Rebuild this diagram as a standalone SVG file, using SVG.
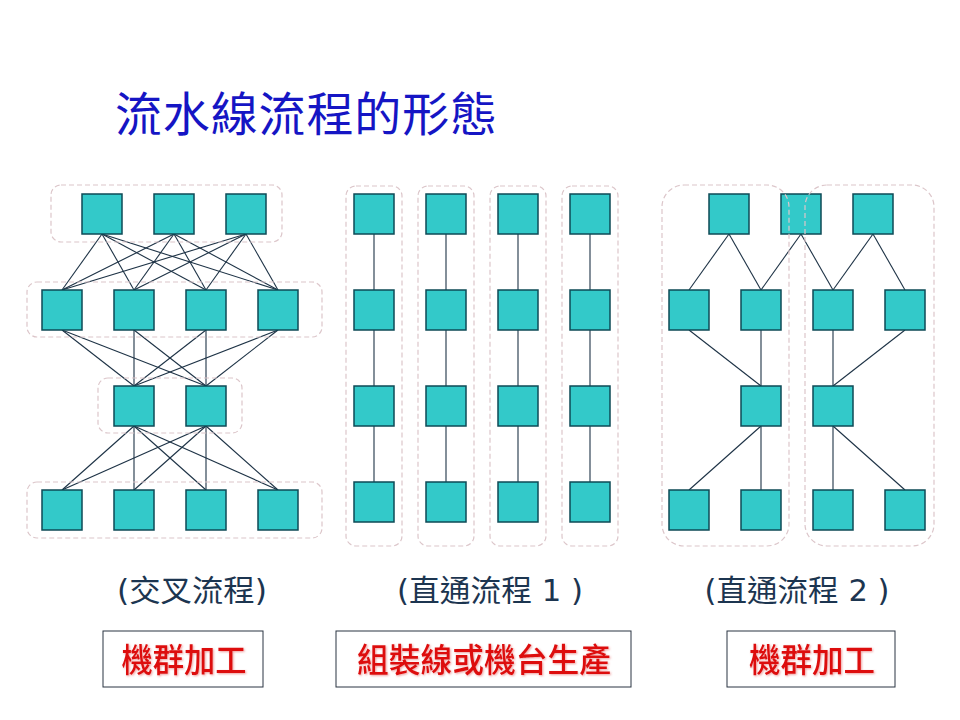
<svg xmlns="http://www.w3.org/2000/svg" width="960" height="720" viewBox="0 0 960 720">
<defs>
<style>
.n{fill:#33c9c9;stroke:#0e4a56;stroke-width:1.5}
.c{stroke:#1e3346;stroke-width:1.1;fill:none}
.g{fill:none;stroke:#dcc6ca;stroke-width:1.2;stroke-dasharray:5 3}
.t{font-family:"Noto Sans CJK TC","Noto Sans CJK SC",sans-serif;font-size:47px;fill:#1515c4}
.l{font-family:"DejaVu Sans","Noto Sans CJK TC",sans-serif;font-size:30px;fill:#1c3550;text-anchor:middle}
.r{font-family:"Noto Sans CJK TC","Noto Sans CJK SC",sans-serif;font-size:33px;fill:#dd1010;text-anchor:middle;font-weight:500}
.b{fill:#fff;stroke:#2a3442;stroke-width:1}
</style>
<filter id="sh" x="-10%" y="-20%" width="120%" height="140%">
<feDropShadow dx="1" dy="1" stdDeviation="1" flood-color="#e05050" flood-opacity="0.55"/>
</filter>
</defs>
<rect width="960" height="720" fill="#fff"/>
<text class="t" x="115" y="131" textLength="382">流水線流程的形態</text>

<g id="connectors">
<line class="c" x1="102" y1="234" x2="62" y2="290"/><line class="c" x1="102" y1="234" x2="134" y2="290"/><line class="c" x1="102" y1="234" x2="206" y2="290"/><line class="c" x1="102" y1="234" x2="278" y2="290"/>
<line class="c" x1="174" y1="234" x2="62" y2="290"/><line class="c" x1="174" y1="234" x2="134" y2="290"/><line class="c" x1="174" y1="234" x2="206" y2="290"/><line class="c" x1="174" y1="234" x2="278" y2="290"/>
<line class="c" x1="246" y1="234" x2="62" y2="290"/><line class="c" x1="246" y1="234" x2="134" y2="290"/><line class="c" x1="246" y1="234" x2="206" y2="290"/><line class="c" x1="246" y1="234" x2="278" y2="290"/>
<line class="c" x1="62" y1="330" x2="134" y2="386"/><line class="c" x1="62" y1="330" x2="206" y2="386"/>
<line class="c" x1="134" y1="330" x2="134" y2="386"/><line class="c" x1="134" y1="330" x2="206" y2="386"/>
<line class="c" x1="206" y1="330" x2="134" y2="386"/><line class="c" x1="206" y1="330" x2="206" y2="386"/>
<line class="c" x1="278" y1="330" x2="134" y2="386"/><line class="c" x1="278" y1="330" x2="206" y2="386"/>
<line class="c" x1="134" y1="426" x2="62" y2="490"/><line class="c" x1="134" y1="426" x2="134" y2="490"/><line class="c" x1="134" y1="426" x2="206" y2="490"/><line class="c" x1="134" y1="426" x2="278" y2="490"/>
<line class="c" x1="206" y1="426" x2="62" y2="490"/><line class="c" x1="206" y1="426" x2="134" y2="490"/><line class="c" x1="206" y1="426" x2="206" y2="490"/><line class="c" x1="206" y1="426" x2="278" y2="490"/>
<line class="c" x1="374" y1="234" x2="374" y2="482"/>
<line class="c" x1="446" y1="234" x2="446" y2="482"/>
<line class="c" x1="518" y1="234" x2="518" y2="482"/>
<line class="c" x1="590" y1="234" x2="590" y2="482"/>
<line class="c" x1="729" y1="234" x2="689" y2="290"/><line class="c" x1="729" y1="234" x2="761" y2="290"/>
<line class="c" x1="801" y1="234" x2="761" y2="290"/><line class="c" x1="801" y1="234" x2="833" y2="290"/>
<line class="c" x1="873" y1="234" x2="833" y2="290"/><line class="c" x1="873" y1="234" x2="905" y2="290"/>
<line class="c" x1="689" y1="330" x2="761" y2="386"/><line class="c" x1="761" y1="330" x2="761" y2="386"/>
<line class="c" x1="833" y1="330" x2="833" y2="386"/><line class="c" x1="905" y1="330" x2="833" y2="386"/>
<line class="c" x1="761" y1="426" x2="689" y2="490"/><line class="c" x1="761" y1="426" x2="761" y2="490"/>
<line class="c" x1="833" y1="426" x2="833" y2="490"/><line class="c" x1="833" y1="426" x2="905" y2="490"/>
</g>

<g id="cross-nodes">
<g id="c1"><rect class="n" x="82" y="194" width="40" height="40"/></g>
<g id="c2"><rect class="n" x="154" y="194" width="40" height="40"/></g>
<g id="c3"><rect class="n" x="226" y="194" width="40" height="40"/></g>
<g id="c4"><rect class="n" x="42" y="290" width="40" height="40"/></g>
<g id="c5"><rect class="n" x="114" y="290" width="40" height="40"/></g>
<g id="c6"><rect class="n" x="186" y="290" width="40" height="40"/></g>
<g id="c7"><rect class="n" x="258" y="290" width="40" height="40"/></g>
<g id="c8"><rect class="n" x="114" y="386" width="40" height="40"/></g>
<g id="c9"><rect class="n" x="186" y="386" width="40" height="40"/></g>
<g id="c10"><rect class="n" x="42" y="490" width="40" height="40"/></g>
<g id="c11"><rect class="n" x="114" y="490" width="40" height="40"/></g>
<g id="c12"><rect class="n" x="186" y="490" width="40" height="40"/></g>
<g id="c13"><rect class="n" x="258" y="490" width="40" height="40"/></g>
</g>

<g id="line-nodes">
<g id="m1"><rect class="n" x="354" y="194" width="40" height="40"/></g>
<g id="m2"><rect class="n" x="354" y="290" width="40" height="40"/></g>
<g id="m3"><rect class="n" x="354" y="386" width="40" height="40"/></g>
<g id="m4"><rect class="n" x="354" y="482" width="40" height="40"/></g>
<g id="m5"><rect class="n" x="426" y="194" width="40" height="40"/></g>
<g id="m6"><rect class="n" x="426" y="290" width="40" height="40"/></g>
<g id="m7"><rect class="n" x="426" y="386" width="40" height="40"/></g>
<g id="m8"><rect class="n" x="426" y="482" width="40" height="40"/></g>
<g id="m9"><rect class="n" x="498" y="194" width="40" height="40"/></g>
<g id="m10"><rect class="n" x="498" y="290" width="40" height="40"/></g>
<g id="m11"><rect class="n" x="498" y="386" width="40" height="40"/></g>
<g id="m12"><rect class="n" x="498" y="482" width="40" height="40"/></g>
<g id="m13"><rect class="n" x="570" y="194" width="40" height="40"/></g>
<g id="m14"><rect class="n" x="570" y="290" width="40" height="40"/></g>
<g id="m15"><rect class="n" x="570" y="386" width="40" height="40"/></g>
<g id="m16"><rect class="n" x="570" y="482" width="40" height="40"/></g>
</g>

<g id="tree-nodes">
<g id="r1"><rect class="n" x="709" y="194" width="40" height="40"/></g>
<g id="r2"><rect class="n" x="781" y="194" width="40" height="40"/></g>
<g id="r3"><rect class="n" x="853" y="194" width="40" height="40"/></g>
<g id="r4"><rect class="n" x="669" y="290" width="40" height="40"/></g>
<g id="r5"><rect class="n" x="741" y="290" width="40" height="40"/></g>
<g id="r6"><rect class="n" x="813" y="290" width="40" height="40"/></g>
<g id="r7"><rect class="n" x="885" y="290" width="40" height="40"/></g>
<g id="r8"><rect class="n" x="741" y="386" width="40" height="40"/></g>
<g id="r9"><rect class="n" x="813" y="386" width="40" height="40"/></g>
<g id="r10"><rect class="n" x="669" y="490" width="40" height="40"/></g>
<g id="r11"><rect class="n" x="741" y="490" width="40" height="40"/></g>
<g id="r12"><rect class="n" x="813" y="490" width="40" height="40"/></g>
<g id="r13"><rect class="n" x="885" y="490" width="40" height="40"/></g>
</g>

<g id="groups">
<rect class="g" x="51" y="185" width="231" height="57" rx="10"/>
<rect class="g" x="27" y="282" width="295" height="55" rx="10"/>
<rect class="g" x="98" y="378" width="144" height="55" rx="10"/>
<rect class="g" x="27" y="482" width="295" height="56" rx="10"/>
<rect class="g" x="346" y="186" width="56" height="360" rx="10"/>
<rect class="g" x="418" y="186" width="56" height="360" rx="10"/>
<rect class="g" x="490" y="186" width="56" height="360" rx="10"/>
<rect class="g" x="562" y="186" width="56" height="360" rx="10"/>
<rect class="g" x="662" y="185" width="127" height="361" rx="22"/>
<rect class="g" x="805" y="185" width="129" height="361" rx="22"/>
</g>

<g id="labels">
<text class="l" x="192" y="601" textLength="150" lengthAdjust="spacingAndGlyphs">(交叉流程)</text>
<text class="l" x="490" y="601" textLength="186" lengthAdjust="spacingAndGlyphs">(直通流程 1 )</text>
<text class="l" x="797" y="601" textLength="185" lengthAdjust="spacingAndGlyphs">(直通流程 2 )</text>
</g>

<g id="tag1"><rect class="b" x="103" y="631" width="160" height="56"/><text class="r" x="184" y="672" textLength="125" lengthAdjust="spacingAndGlyphs" filter="url(#sh)">機群加工</text></g>
<g id="tag2"><rect class="b" x="336" y="631" width="295" height="56"/><text class="r" x="484" y="672" textLength="254" lengthAdjust="spacingAndGlyphs" filter="url(#sh)">組裝線或機台生產</text></g>
<g id="tag3"><rect class="b" x="727" y="631" width="168" height="56"/><text class="r" x="812" y="672" textLength="126" lengthAdjust="spacingAndGlyphs" filter="url(#sh)">機群加工</text></g>
</svg>
